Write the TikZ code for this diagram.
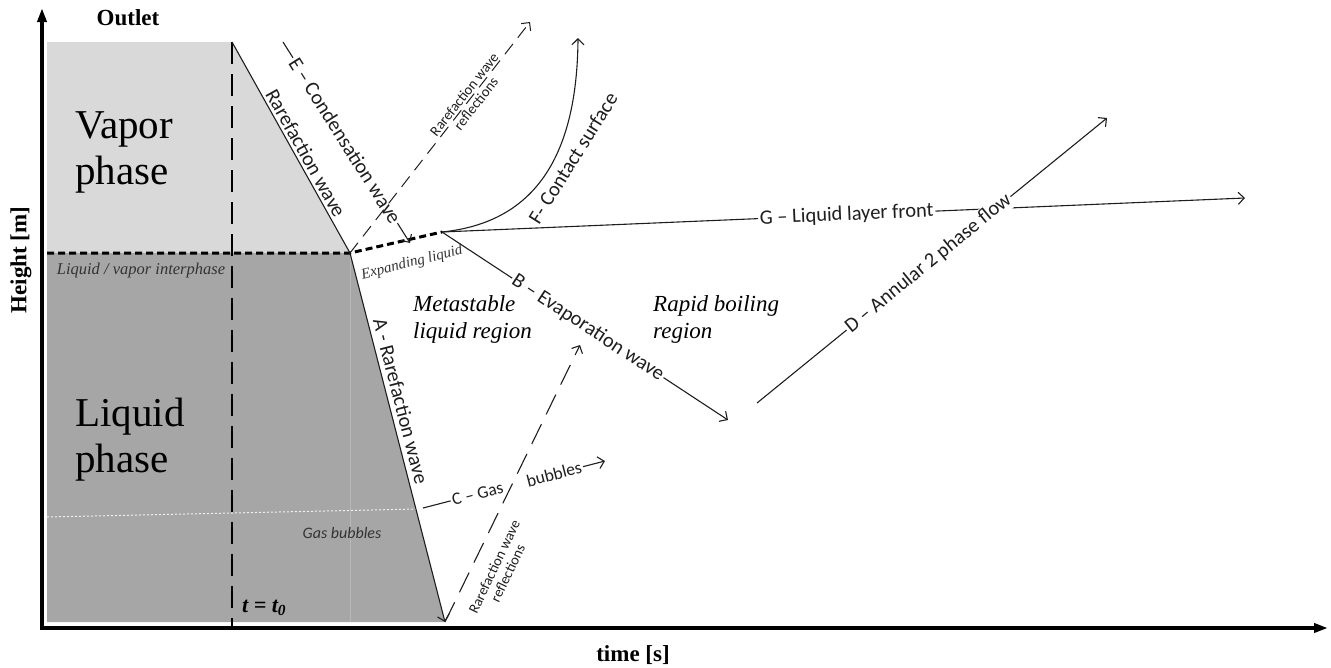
\documentclass[tikz,border=0pt]{standalone}
\usepackage{fontspec}
\setmainfont{Liberation Serif}
\newfontfamily\calib{Carlito}
\usetikzlibrary{arrows.meta,calc}
\definecolor{vaporgray}{RGB}{217,217,217}
\definecolor{liquidgray}{RGB}{166,166,166}
\definecolor{inkgray}{RGB}{30,30,30}

\begin{document}
\begin{tikzpicture}[x=1pt,y=-1pt,
  wave/.style={line width=1.1pt, draw=inkgray},
  arr/.style={-{Straight Barb[length=6pt,width=12pt]}},
  lab/.style={font=\calib\fontsize{20.5}{22}\selectfont, inner sep=1.5pt, text=inkgray},
  clab/.style={font=\calib\fontsize{17.5}{19}\selectfont, inner sep=1.5pt, text=inkgray},
  tinylab/.style={font=\calib\fontsize{14.5}{15}\selectfont, align=center, inner sep=0pt, text=inkgray},
  axislab/.style={font=\bfseries\fontsize{23}{25}\selectfont, inner sep=0pt},
  region/.style={font=\fontsize{41}{46}\selectfont, align=left, anchor=north west, inner sep=0pt},
  zone/.style={font=\itshape\fontsize{23}{27}\selectfont, align=left, anchor=north west, inner sep=0pt},
  note/.style={font=\itshape\fontsize{16.5}{18}\selectfont, inner sep=0pt, text=black!80},
  longdash/.style={line width=1.1pt, dash pattern=on 22pt off 11pt, draw=inkgray},
  shortdash/.style={line width=1pt, dash pattern=on 13pt off 8pt, draw=inkgray},
]
\useasboundingbox (0,0) rectangle (1331,667);

% ---- key points of the wave diagram
\coordinate (O)    at (42,628);
\coordinate (Ytip) at (42,8);
\coordinate (Xtip) at (1328,628);
\coordinate (TL)   at (47,42);
\coordinate (P0)   at (232,42);
\coordinate (T0b)  at (232,628);
\coordinate (J)    at (350,253);
\coordinate (Lft)  at (47,253);
\coordinate (Abot) at (445,622);
\coordinate (BL)   at (47,622);
\coordinate (Jb)   at (350,622);
\coordinate (K)    at (442,232);
\coordinate (GBl)  at (47,517);
\coordinate (GBr)  at (418,509);

% ---- vapour and liquid columns
\fill[vaporgray]  (TL) -- (P0) -- (J) -- (Lft) -- cycle;
\fill[liquidgray] (Lft) -- (J) -- (Abot) -- (BL) -- cycle;
\draw[liquidgray!80!white, line width=0.8pt] (J) -- (Jb);
\draw[white!85!liquidgray, line width=1pt, dash pattern=on 2pt off 2pt] (GBl) -- (GBr);

% ---- axes
\draw[line width=3.5pt, {Triangle[length=14pt,width=9pt]}-{Triangle[length=14pt,width=9pt]}] (Ytip) -- (O) -- (Xtip);

% ---- t = t0 and the liquid/vapour interface
\draw[line width=1.8pt, dash pattern=on 22pt off 10pt] (P0) -- (T0b);
\draw[line width=3pt, dash pattern=on 7pt off 4pt] (Lft) -- (J) -- (K);

% ---- rarefaction front (vapour, then A in the liquid)
\draw[wave, arr] (P0) -- (J) -- (Abot);
\path (P0) -- node[lab, sloped, above, pos=0.55, inner sep=3pt] (Rlab) {Rarefaction wave} (J);
\path (J) -- node[lab, sloped, above, pos=0.41, inner sep=5pt] (Alab) {A - Rarefaction wave} (Abot);

% ---- E: condensation wave
\coordinate (Eb) at (283,42);
\coordinate (Ee) at (410,243);
\path (Eb) -- node[lab, sloped, pos=0.49] (Elab) {E – Condensation wave} (Ee);
\draw[wave] (Eb) -- (Elab.west);
\draw[wave, arr] (Elab.east) -- (Ee);

% ---- rarefaction wave reflections
\coordinate (R1e) at (530,22);
\draw[shortdash, arr] (J) -- (R1e);
\node[tinylab, rotate=51.7] (R1lab) at (470,99) {Rarefaction wave\\reflections};

\coordinate (R2e) at (580,345);
\draw[longdash, arr] (Abot) -- (R2e);
\node[tinylab, rotate=64.4] (R2lab) at (501,570) {Rarefaction wave\\reflections};

% ---- F: contact surface
\coordinate (Fe) at (578,38);
\draw[wave, arr] (K) .. controls (520,224) and (577,175) .. (Fe);
\node[lab, rotate=58] (Flab) at (573,158) {F- Contact surface};

% ---- G: liquid layer front
\coordinate (Ge) at (1245,198);
\path (K) -- node[lab, sloped, pos=0.504] (Glab) {G – Liquid layer front} (Ge);
\draw[wave] (K) -- (Glab.west);
\draw[wave, arr] (Glab.east) -- (Ge);

% ---- B: evaporation wave
\coordinate (Be) at (728,420);
\path (K) -- node[lab, sloped, pos=0.51] (Blab) {B – Evaporation wave} (Be);
\draw[wave] (K) -- (Blab.west);
\draw[wave, arr] (Blab.east) -- (Be);

% ---- D: annular two-phase flow
\coordinate (Db) at (757,403);
\coordinate (De) at (1107,118);
\path (Db) -- node[lab, sloped, pos=0.49, fill=white] (Dlab) {D – Annular 2 phase flow} (De);
\draw[wave] (Db) -- (Dlab.west);
\draw[wave, arr] (Dlab.east) -- (De);

% ---- C: gas bubbles
\coordinate (Cb) at (423,508);
\coordinate (Ce) at (605,461);
\path (Cb) -- node[clab, sloped, pos=0.3] (C1) {C – Gas}
              node[clab, sloped, pos=0.72] (C2) {bubbles} (Ce);
\draw[wave] (Cb) -- (C1.west);
\draw[wave, arr] (C2.east) -- (Ce);

% ---- texts
\node[axislab] (outlet) at (128,18) {Outlet};
\node[axislab, rotate=90] (ylab) at (21,260) {Height [m]};
\node[axislab] (xlab) at (633,655) {time [s]};
\node[region] (vap) at (75,111) {Vapor\\phase};
\node[region] (liq) at (75,398) {Liquid\\phase};
\node[note] (iface) at (141,271) {Liquid / vapor interphase};
\node[note, font=\itshape\fontsize{15}{16}\selectfont, rotate=14] (expl) at (412,263) {Expanding liquid};
\node[zone] (meta) at (413,295) {Metastable\\liquid region};
\node[zone] (rapid) at (653,295) {Rapid boiling\\region};
\node[font=\calib\itshape\fontsize{16}{18}\selectfont, text=black!80] (gas) at (342,533) {Gas bubbles};
\node[font=\bfseries\itshape\fontsize{22}{24}\selectfont, anchor=base west, inner sep=0pt] (tzero) at (242,612) {t = t\textsubscript{0}};
\end{tikzpicture}
\end{document}
